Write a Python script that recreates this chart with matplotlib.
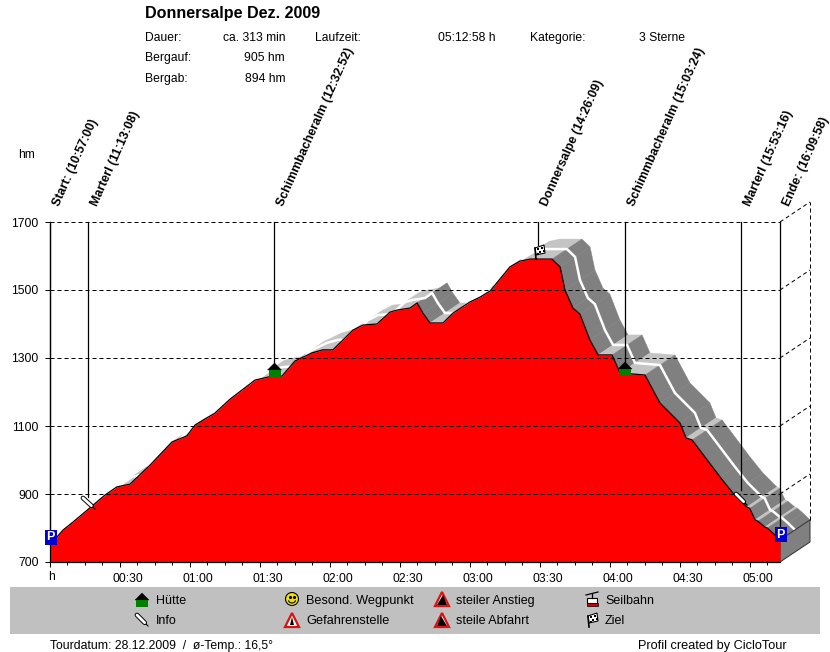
import numpy as np
import matplotlib
matplotlib.use('Agg')
import matplotlib.pyplot as plt
from matplotlib.patches import Polygon, Rectangle, Circle
from matplotlib.transforms import ScaledTranslation

plt.rcParams['font.family'] = ['Liberation Sans', 'DejaVu Sans']

# elevation profile
minutes = [0, 5.6, 9.4, 15, 23.6, 28.7, 34.3, 42.9, 52.3, 58.7, 62.2, 70.7, 77.2, 87.9, 93.5, 99.5,
           105, 112.3, 117, 121.3, 129.9, 134.2, 140.2, 145.8, 148.8, 154.4, 157.4, 159.9, 162.9,
           168.5, 172.8, 180.1, 184.4, 188.7, 197.2, 201.5, 205.8, 215.2, 218.7, 220.8, 224.2,
           227.2, 231.5, 235, 241, 244.4, 255.1, 261.5, 270.1, 272.7, 275.3, 287.3, 292.8, 298.8, 300,
           302.3, 303.5, 306.5, 307.5, 310, 313]
height = [750, 794, 815, 847, 897, 921, 929, 985, 1053, 1071, 1103, 1138, 1179, 1235, 1244, 1247,
          1291, 1315, 1324, 1324, 1382, 1397, 1400, 1435, 1441, 1447, 1462, 1432, 1403,
          1403, 1432, 1465, 1479, 1497, 1568, 1585, 1591, 1591, 1568, 1500, 1447,
          1429, 1353, 1309, 1309, 1256, 1250, 1168, 1109, 1065, 1059, 950, 903, 862, 858,
          824, 820, 803, 800, 785, 765]

way_names = ['Start:', 'Marterl', 'Schimmbacheralm', 'Donnersalpe', 'Schimmbacheralm', 'Marterl', 'Ende:']
way_clock = ['10:57:00', '11:13:08', '12:32:52', '14:26:09', '15:03:24', '15:53:16', '16:09:58']
way_height = [790, 891, 1279, 1632, 1288, 912, 803]

y_levels = [700, 900, 1100, 1300, 1500, 1700]
x_major = [0, 30, 60, 90, 120, 150, 180, 210, 240, 270, 300]
x_labels = ['', '00:30', '01:00', '01:30', '02:00', '02:30', '03:00', '03:30', '04:00', '04:30', '05:00']

W, H = 830, 652
fig = plt.figure(figsize=(W / 100, H / 100), dpi=100)
ax = fig.add_axes([50 / W, 1 - 562 / H, 730 / W, 340 / H])
t_end = minutes[-1]
ax.set_xlim(0, t_end)
ax.set_ylim(700, 1700)

# depth of the 3d band, in data units (30px right, 20px up)
dt = 30 * t_end / 730
dh = 20 * 1000 / 340

t = np.array(minutes)
h = np.array(height)

# band behind the profile
for i in range(len(t) - 1):
    slope = (h[i + 1] - h[i]) / (t[i + 1] - t[i])
    col = '#808080' if slope < -4 else '#c4c4c4'
    ax.add_patch(Polygon([(t[i], h[i]), (t[i + 1], h[i + 1]), (t[i + 1] + dt, h[i + 1] + dh), (t[i] + dt, h[i] + dh)],
                         closed=True, fc=col, ec=col, lw=0.3, clip_on=False, zorder=1))
ax.plot(t + dt / 2, h + dh / 2, color='white', lw=1.8, clip_on=False, zorder=2)

# end face of the block
ax.add_patch(Polygon([(t_end, 700), (t_end + dt, 700 + dh), (t_end + dt, h[-1] + dh), (t_end, h[-1])],
                     closed=True, fc='#808080', ec='#303030', lw=0.7, clip_on=False, zorder=3))

ax.fill_between(t, 700, h, color='#ff0000', lw=0, zorder=4)
ax.plot(t, h, color='black', lw=0.9, zorder=5)

# grid sits on top of everything
dash = (0, (4, 3))
for lev in y_levels:
    if lev > 700:
        ax.plot([0, t_end], [lev, lev], color='black', lw=0.72, ls=dash, zorder=6, clip_on=False)
        ax.plot([t_end, t_end + dt], [lev, lev + dh], color='black', lw=0.72, ls=dash, zorder=6, clip_on=False)
ax.plot([t_end + dt, t_end + dt], [h[-1] + dh, y_levels[-1] + dh], color='black', lw=0.72, ls=dash,
        zorder=6, clip_on=False)

# waypoint lines and labels
way_min = []
h0, m0, s0 = [int(v) for v in way_clock[0].split(':')]
for c in way_clock:
    hh, mm, ss = [int(v) for v in c.split(':')]
    way_min.append((hh - h0) * 60 + mm - m0 + (ss - s0) / 60)
for name, clock, tm, top in zip(way_names, way_clock, way_min, way_height):
    ax.plot([tm, tm], [top, 1700], color='black', lw=0.9, zorder=7, clip_on=False)
    ax.annotate('%s (%s)' % (name, clock), xy=(tm, 1700), xytext=(12, 14), textcoords='offset pixels',
                rotation=66, rotation_mode='anchor', ha='left', va='bottom', fontsize=8.9,
                fontweight='bold', color='black', annotation_clip=False)

for s in ['top', 'right']:
    ax.spines[s].set_visible(False)
for s in ['left', 'bottom']:
    ax.spines[s].set_linewidth(0.9)
    ax.spines[s].set_zorder(8)

ax.set_yticks(y_levels)
ax.set_yticklabels([str(v) for v in y_levels], fontsize=8.7)
ax.tick_params(axis='y', length=3.6, width=0.7, pad=4.5)
ax.set_xticks(x_major)
ax.set_xticklabels(x_labels, fontsize=8.7)
ax.set_xticks(np.arange(0, t_end, 7.5), minor=True)
ax.tick_params(axis='x', which='major', length=3.6, width=0.7, pad=4)
ax.tick_params(axis='x', which='minor', length=2, width=0.7)
shift = ScaledTranslation(8 / 100, 0, fig.dpi_scale_trans)
for lab in ax.get_xticklabels():
    lab.set_transform(lab.get_transform() + shift)

# overlay in pixels for header, legend and icons
ov = fig.add_axes([0, 0, 1, 1], zorder=10)
ov.set_xlim(0, W)
ov.set_ylim(H, 0)
ov.axis('off')
ov.patch.set_alpha(0)


def txt(x, y, s, ha='left', **kw):
    kw.setdefault('fontsize', 8.7)
    ov.text(x, y + 4, s, ha=ha, va='baseline', color='black', **kw)


txt(51, 576, 'h', ha='center')
txt(18, 154, 'hm')
txt(145, 14, 'Donnersalpe Dez. 2009', fontsize=11.6, fontweight='bold')
txt(145, 37, 'Dauer:')
txt(285, 37, 'ca. 313 min', ha='right')
txt(145, 57, 'Bergauf:')
txt(285, 57, '905 hm', ha='right')
txt(145, 78, 'Bergab:')
txt(285, 78, '894 hm', ha='right')
txt(315, 37, 'Laufzeit:')
txt(495, 37, '05:12:58 h', ha='right')
txt(530, 37, 'Kategorie:')
txt(639, 37, '3 Sterne')
txt(50, 644.5, 'Tourdatum: 28.12.2009  /  ø-Temp.: 16,5°', fontsize=8.8)
txt(787, 644.5, 'Profil created by CicloTour', ha='right', fontsize=9.2)

ov.add_patch(Rectangle((10, 587), 810, 47, fc='#c0c0c0', ec='none'))


def hut(cx, top):
    ov.add_patch(Polygon([(cx - 7, top + 7), (cx, top), (cx + 7, top + 7)], fc='black', ec='black', lw=0.3))
    ov.add_patch(Rectangle((cx - 6, top + 7), 12, 7, fc='#008000', ec='none'))


def pin(x0, y0, x1, y1):
    ov.plot([x0, x1], [y0, y1], color='black', lw=0.8)
    mx, my = x0 + (x1 - x0) * 0.7, y0 + (y1 - y0) * 0.7
    ov.plot([x0, mx], [y0, my], color='black', lw=3.4, solid_capstyle='round')
    ov.plot([x0, mx], [y0, my], color='white', lw=2, solid_capstyle='round')


def flag(cx, cy):
    ov.plot([cx - 4, cx - 3], [cy - 4, cy + 7], color='black', lw=1.2)
    ov.add_patch(Polygon([(cx - 4, cy - 4), (cx + 5, cy - 7), (cx + 6, cy + 1), (cx - 3, cy + 3)],
                         fc='white', ec='black', lw=0.8))
    for ox, oy in [(-2, -4), (2, -5), (0, -1), (4, -2), (-2, 1)]:
        ov.add_patch(Rectangle((cx + ox, cy + oy), 2, 2, fc='black', ec='none'))


def park(x0, y0):
    ov.add_patch(Rectangle((x0, y0), 11.5, 15, fc='#0000d0', ec='none'))
    ov.text(x0 + 5.8, y0 + 7.5, 'P', color='white', fontsize=9, fontweight='bold', ha='center', va='center')


def warn(cx, cy, kind):
    ov.add_patch(Polygon([(cx - 7, cy + 7), (cx, cy - 7), (cx + 7, cy + 7)], fc='white', ec='#e01010', lw=1.6))
    if kind == 'excl':
        ov.add_patch(Polygon([(cx - 2, cy + 5), (cx, cy - 3), (cx + 2, cy + 5)], fc='black', ec='none'))
    elif kind == 'up':
        ov.add_patch(Polygon([(cx - 5, cy + 6), (cx + 1, cy - 4), (cx + 5, cy + 6)], fc='black', ec='none'))
    else:
        ov.add_patch(Polygon([(cx - 5, cy + 6), (cx - 1, cy - 4), (cx + 5, cy + 6)], fc='black', ec='none'))


# icons on the profile
park(45, 530)
park(775, 527)
hut(274.5, 363)
hut(625, 362)
pin(83, 498, 95, 509)
pin(736, 494, 747, 505)
flag(539, 252)

# legend
hut(142, 593)
pin(137, 615, 148, 626)
ov.add_patch(Circle((292, 599), 6.5, fc='#f0e000', ec='black', lw=0.8))
ov.plot([290, 294], [597, 597], ls='none', marker='.', ms=2.5, color='black')
ov.plot(292 + 3.5 * np.cos(np.linspace(0.3, 2.84, 12)), 600 + 3 * np.sin(np.linspace(0.3, 2.84, 12)),
        color='black', lw=0.8)
warn(292, 620, 'excl')
warn(442, 599, 'up')
warn(442, 620, 'down')
# cable car
ov.plot([586, 598], [595, 592], color='black', lw=0.9)
ov.plot([592, 592], [594, 598], color='black', lw=0.9)
ov.add_patch(Rectangle((587, 598), 10, 5, fc='white', ec='black', lw=0.8))
ov.add_patch(Rectangle((586.5, 602.5), 11, 3.5, fc='#d00000', ec='black', lw=0.5))
flag(592, 620)

txt(156, 600, 'Hütte', fontsize=9)
txt(156, 620, 'Info', fontsize=9)
txt(306, 600, 'Besond. Wegpunkt', fontsize=9.2)
txt(306, 620, 'Gefahrenstelle', fontsize=9.2)
txt(456, 600, 'steiler Anstieg', fontsize=9)
txt(456, 620, 'steile Abfahrt', fontsize=9)
txt(605, 600, 'Seilbahn', fontsize=9)
txt(605, 620, 'Ziel', fontsize=9)

fig.savefig('out.png', dpi=100)
